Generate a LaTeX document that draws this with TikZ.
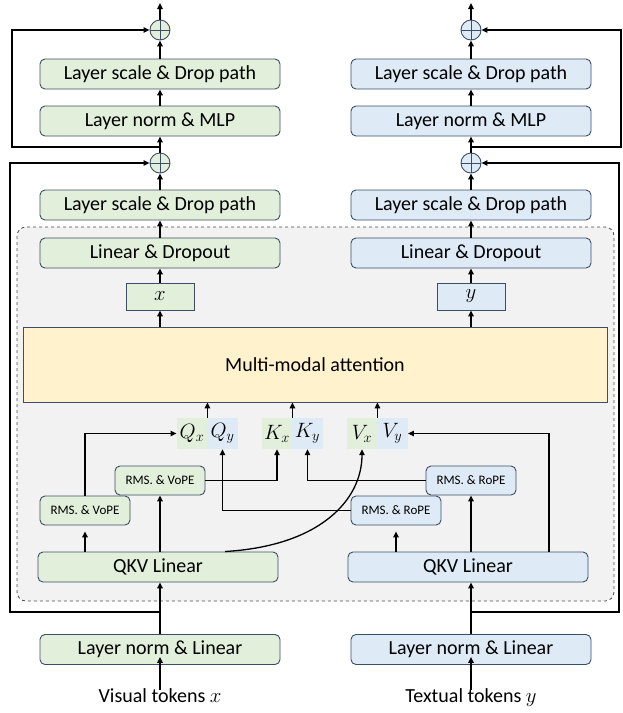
\documentclass[tikz,border=0pt]{standalone}
\usepackage{amsmath}
\usepackage{fontspec}
\setmainfont{Carlito}
\usepackage{tikz}
\usepackage{xcolor}
\usetikzlibrary{shapes, arrows.meta}

\definecolor{visfill}{HTML}{E2EFDA}
\definecolor{txtfill}{HTML}{DEEBF7}
\definecolor{boxline}{HTML}{3B4E66}
\definecolor{attfill}{HTML}{FFF2CC}
\definecolor{areafill}{HTML}{F2F2F2}

\tikzset{
    blk/.style={rectangle, rounded corners=5pt, draw=boxline, line width=0.9pt,
        minimum width=240pt, minimum height=30pt, inner sep=0pt,
        font=\fontsize{20}{22}\selectfont},
    small/.style={blk, minimum width=90pt, minimum height=29pt,
        font=\fontsize{13}{15}\selectfont},
    tok/.style={rectangle, draw=boxline, line width=0.9pt, minimum width=68pt,
        minimum height=27pt, inner sep=0pt, font=\fontsize{20}{22}\selectfont},
    cell/.style={rectangle, minimum width=30.5pt, minimum height=31pt, inner sep=0pt,
        font=\fontsize{21}{22}\selectfont},
    addop/.style={circle, draw=boxline, line width=0.9pt, minimum size=20pt, inner sep=0pt,
        path picture={\draw[boxline, line width=0.9pt]
            (path picture bounding box.north) -- (path picture bounding box.south)
            (path picture bounding box.west) -- (path picture bounding box.east);}},
    flow/.style={-{Triangle[length=6pt, width=5.5pt]}, line width=1.7pt},
    wire/.style={-{Triangle[length=6pt, width=5.5pt]}, line width=1.3pt},
    skip/.style={-{Triangle[length=6pt, width=5.5pt]}, line width=1.4pt},
    caption/.style={anchor=north, inner sep=0pt, font=\fontsize{20}{22}\selectfont}
}

\begin{document}
\begin{tikzpicture}[x=1pt, y=-1pt]
        \useasboundingbox (0, 0) rectangle (623, 713);

        % grey area round the attention block
        \draw[dashed, draw=black!70, fill=areafill, rounded corners=9pt, line width=0.8pt]
            (17, 227) rectangle (614, 601);

        % visual branch
        \node[addop, fill=visfill] (pa1) at (160, 30) {};
        \node[blk, fill=visfill] (lsa1) at (160, 74) {Layer scale \& Drop path};
        \node[blk, fill=visfill] (mlpa) at (160, 121) {Layer norm \& MLP};
        \node[addop, fill=visfill] (pa2) at (160, 163) {};
        \node[blk, fill=visfill] (lsa2) at (160, 205) {Layer scale \& Drop path};
        \node[blk, fill=visfill] (lda) at (160, 253) {Linear \& Dropout};
        \node[tok, fill=visfill] (xa) at (160, 296.5) {$x$};
        \node[small, fill=visfill] (vope1) at (85, 510.5) {RMS. \& VoPE};
        \node[small, fill=visfill] (vope2) at (160, 480.5) {RMS. \& VoPE};
        \node[blk, fill=visfill] (qkva) at (158, 567) {QKV Linear};
        \node[blk, fill=visfill] (ina) at (160, 649.5) {Layer norm \& Linear};
        \node[caption] (tka) at (160, 688) {Visual tokens $x$};

        % textual branch
        \node[addop, fill=txtfill] (pb1) at (471, 30) {};
        \node[blk, fill=txtfill] (lsb1) at (471, 74) {Layer scale \& Drop path};
        \node[blk, fill=txtfill] (mlpb) at (471, 121) {Layer norm \& MLP};
        \node[addop, fill=txtfill] (pb2) at (471, 163) {};
        \node[blk, fill=txtfill] (lsb2) at (471, 205) {Layer scale \& Drop path};
        \node[blk, fill=txtfill] (ldb) at (471, 253) {Linear \& Dropout};
        \node[tok, fill=txtfill] (yb) at (471, 296.5) {$y$};
        \node[small, fill=txtfill] (rope1) at (396, 510.5) {RMS. \& RoPE};
        \node[small, fill=txtfill] (rope2) at (471, 480.5) {RMS. \& RoPE};
        \node[blk, fill=txtfill] (qkvb) at (468, 567) {QKV Linear};
        \node[blk, fill=txtfill] (inb) at (471, 649.5) {Layer norm \& Linear};
        \node[caption] (tkb) at (471, 688) {Textual tokens $y$};

        % joint attention
        \node[rectangle, draw=boxline, line width=0.9pt, fill=attfill, minimum width=584pt,
            minimum height=75pt, font=\fontsize{20}{22}\selectfont] (attn) at (315, 364.5) {Multi-modal attention};

        \node[cell, fill=visfill] (qx) at (192, 433.5) {$Q_x$};
        \node[cell, fill=txtfill] (qy) at (222.5, 433.5) {$Q_y$};
        \node[cell, fill=visfill] (kx) at (277, 433.5) {$K_x$};
        \node[cell, fill=txtfill] (ky) at (307.5, 433.5) {$K_y$};
        \node[cell, fill=visfill] (vx) at (362, 433.5) {$V_x$};
        \node[cell, fill=txtfill] (vy) at (392.5, 433.5) {$V_y$};

        \coordinate (ja1) at (160, 147);
        \coordinate (jb1) at (471, 147);
        \coordinate (ja2) at (160, 612);
        \coordinate (jb2) at (471, 612);
        \coordinate (outa) at (160, 3);
        \coordinate (outb) at (471, 3);

        % main stems
        \draw[flow] (pa1) to (outa);
        \draw[flow] (lsa1) to (pa1);
        \draw[flow] (mlpa) to (lsa1);
        \draw[flow] (pa2) to (mlpa);
        \draw[flow] (lsa2) to (pa2);
        \draw[flow] (lda) to (lsa2);
        \draw[flow] (xa) to (lda);
        \draw[flow] (attn.north -| xa) to (xa);
        \draw[flow] (ina) to (qkva.south -| ina);
        \draw[flow] ([yshift=-2pt]tka.north) to ([yshift=8pt]ina.south);

        \draw[flow] (pb1) to (outb);
        \draw[flow] (lsb1) to (pb1);
        \draw[flow] (mlpb) to (lsb1);
        \draw[flow] (pb2) to (mlpb);
        \draw[flow] (lsb2) to (pb2);
        \draw[flow] (ldb) to (lsb2);
        \draw[flow] (yb) to (ldb);
        \draw[flow] (attn.north -| yb) to (yb);
        \draw[flow] (inb) to (qkvb.south -| inb);
        \draw[flow] ([yshift=-2pt]tkb.north) to ([yshift=8pt]inb.south);

        % residual paths
        \draw[skip] (ja1) -- (12, 147) -- (12, 30) -- (pa1);
        \draw[skip] (ja2) -- (10, 612) -- (10, 163) -- (pa2);
        \draw[skip] (jb1) -- (621, 147) -- (621, 30) -- (pb1);
        \draw[skip] (jb2) -- (619, 612) -- (619, 163) -- (pb2);

        % q, k, v into attention
        \draw[flow] (qx.north east) to (qx.north east |- attn.south);
        \draw[flow] (kx.north east) to (kx.north east |- attn.south);
        \draw[flow] (vx.north east) to (vx.north east |- attn.south);

        % visual q, k, v
        \draw[flow] (qkva.north -| vope1) to ([yshift=-6pt]vope1.south);
        \draw[flow] (qkva.north -| vope2) to (vope2.south);
        \draw[wire] (vope1.north) -- (85, 433.5) -- (qx.west);
        \draw[wire] (vope2.east) -| (kx.south);
        \draw[wire] (225, 551.5) .. controls (320, 546) and (362, 500) .. (vx.south);

        % textual q, k, v
        \draw[flow] (qkvb.north -| rope1) to ([yshift=-6pt]rope1.south);
        \draw[flow] (qkvb.north -| rope2) to (rope2.south);
        \draw[wire] (rope1.west) -| (qy.south);
        \draw[wire] (rope2.west) -| (ky.south);
        \draw[wire] (549, 552) -- (549, 433.5) -- (vy.east);
    \end{tikzpicture}
\end{document}
